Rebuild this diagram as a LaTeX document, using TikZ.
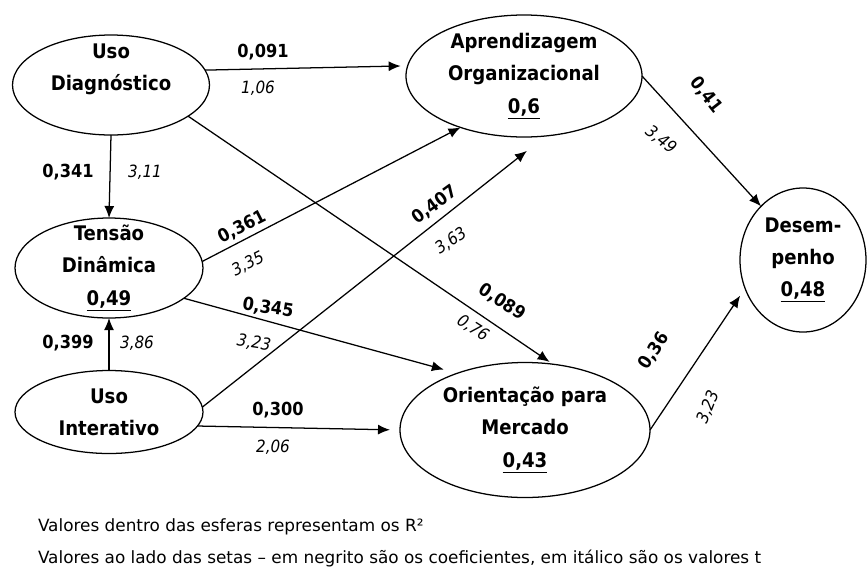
\documentclass[tikz,border=0pt]{standalone}
\usepackage{fontspec}
\setmainfont{DejaVu Sans Condensed}[BoldFont={DejaVu Sans Condensed Bold},ItalicFont={DejaVu Sans Condensed Oblique}]
\newfontfamily\notefont{DejaVu Sans}
\usetikzlibrary{shapes.geometric,arrows.meta}

\begin{document}
\begin{tikzpicture}[x=0.25mm,y=-0.25mm,every node/.style={outer sep=0pt,inner sep=0pt}]
\tikzstyle{var}=[draw,ellipse,line width=0.9pt]
\tikzstyle{vname}=[align=center,font=\bfseries\fontsize{14.3}{23}\selectfont]
\tikzstyle{arr}=[line width=0.9pt,-{Latex[length=3mm,width=2.5mm]}]
\tikzstyle{coef}=[font=\bfseries\fontsize{12.8}{15}\selectfont]
\tikzstyle{tval}=[font=\itshape\fontsize{12}{14}\selectfont]
\tikzstyle{note}=[anchor=west,font=\notefont\fontsize{12}{14}\selectfont]

\useasboundingbox (0,0) rectangle (867,572);

% variables
\node (UD) [var,minimum width=49.25mm,minimum height=25mm] at (111,85) {};
\node (UDt) [vname] at (UD) {Uso\\Diagnóstico\\\phantom{0,6}};

\node (AO) [var,minimum width=59mm,minimum height=30.5mm] at (524,76) {};
\node (AOt) [vname] at (AO) {Aprendizagem\\Organizacional\\\underline{0,6}};

\node (TD) [var,minimum width=47mm,minimum height=25mm] at (109,268) {};
\node (TDt) [vname] at (TD) {Tensão\\Dinâmica\\\underline{0,49}};

\node (UI) [var,minimum width=47mm,minimum height=20.75mm] at (109,412) {};
\node (UIt) [vname] at (UI) {Uso\\Interativo};

\node (OM) [var,minimum width=62.5mm,minimum height=33.75mm] at (525,430) {};
\node (OMt) [vname] at (OM) {Orientação para\\Mercado\\\underline{0,43}};

\node (D) [var,minimum width=31.5mm,minimum height=36mm] at (803,260) {};
\node (Dt) [vname] at (D) {Desem-\\penho\\\underline{0,48}};

% paths
\draw [arr,shorten >=1.75mm] (UD.9) -- (AO.175);
\draw [arr] (UD.south) -- (TD.north);
\draw [arr,shorten >=1mm] (UD.-22) -- (OM.67);
\draw [arr] (TD.4) -- (AO.219);
\draw [arr,shorten >=3.5mm] (TD.-22) -- (OM.140);
\draw [arr] (UI.north) -- (TD.south);
\draw [arr,shorten >=6mm] (UI.3) -- (AO.-70);
\draw [arr,shorten >=2.5mm] (UI.-9) -- (OM.west);
\draw [arr] (AO.east) -- (D.128);
\draw [arr,shorten >=2.2mm] (OM.east) -- (D.206);

% coefficients and t values
\node (c1) [coef] at (263,52) {0,091};
\node (t1) [tval] at (258,88) {1,06};
\node (c2) [coef] at (68,172) {0,341};
\node (t2) [tval] at (145,172) {3,11};
\node (c3) [coef,rotate=-33] at (502,302) {0,089};
\node (t3) [tval,rotate=-33] at (473,328) {0,76};
\node (c4) [coef,rotate=27] at (242,227) {0,361};
\node (t4) [tval,rotate=27] at (248,264) {3,35};
\node (c5) [coef,rotate=-9] at (268,308) {0,345};
\node (t5) [tval,rotate=-9] at (254,343) {3,23};
\node (c6) [coef,rotate=36] at (435,205) {0,407};
\node (t6) [tval,rotate=34] at (451,241) {3,63};
\node (c7) [coef] at (278,410) {0,300};
\node (t7) [tval] at (273,447) {2,06};
\node (c8) [coef,rotate=-52] at (706,95) {0,41};
\node (t8) [tval,rotate=-38] at (661,140) {3,49};
\node (c9) [coef,rotate=57] at (654,351) {0,36};
\node (t9) [tval,rotate=68] at (708,407) {3,23};
\node (c10) [coef] at (68,343) {0,399};
\node (t10) [tval] at (137,343) {3,86};

% legend
\node (n1) [note] at (38,527) {Valores dentro das esferas representam os R²};
\node (n2) [note] at (38,558) {Valores ao lado das setas – em negrito são os coeficientes, em itálico são os valores t};
\end{tikzpicture}
\end{document}
